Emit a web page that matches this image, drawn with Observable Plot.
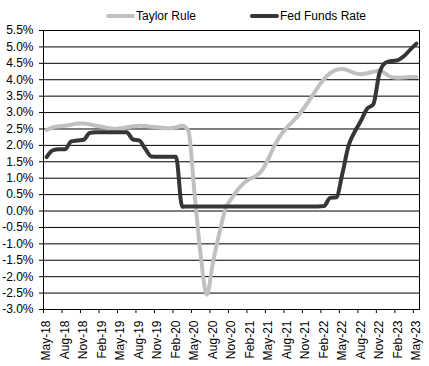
<!DOCTYPE html>
<html><head><meta charset="utf-8">
<script src="https://cdn.jsdelivr.net/npm/d3@7"></script>
<script src="https://cdn.jsdelivr.net/npm/@observablehq/plot@0.6"></script>
<style>
body{margin:0;background:#fff;font-family:"Liberation Sans",Arial,sans-serif;}
#legend{position:relative;height:24px;width:429px;font-size:12px;color:#000;}
.sw{position:absolute;top:14px;width:29px;height:4px;border-radius:2px;}
.lb{position:absolute;top:9px;line-height:14px;white-space:nowrap;}
#chart svg{display:block;}
</style></head><body>
<div id="legend">
  <div class="sw" style="left:106px;background:#c0c0c0"></div><div class="lb" style="left:136px">Taylor Rule</div>
  <div class="sw" style="left:250px;background:#363636"></div><div class="lb" style="left:280px">Fed Funds Rate</div>
</div>
<div id="chart"></div>
<script>
const months = ["May-18","Jun-18","Jul-18","Aug-18","Sep-18","Oct-18","Nov-18","Dec-18",
"Jan-19","Feb-19","Mar-19","Apr-19","May-19","Jun-19","Jul-19","Aug-19","Sep-19","Oct-19","Nov-19","Dec-19",
"Jan-20","Feb-20","Mar-20","Apr-20","May-20","Jun-20","Jul-20","Aug-20","Sep-20","Oct-20","Nov-20","Dec-20",
"Jan-21","Feb-21","Mar-21","Apr-21","May-21","Jun-21","Jul-21","Aug-21","Sep-21","Oct-21","Nov-21","Dec-21",
"Jan-22","Feb-22","Mar-22","Apr-22","May-22","Jun-22","Jul-22","Aug-22","Sep-22","Oct-22","Nov-22","Dec-22",
"Jan-23","Feb-23","Mar-23","Apr-23","May-23"];

const taylorRule = [2.47,2.55,2.58,2.60,2.63,2.67,2.67,2.64,2.60,2.57,2.53,2.50,2.52,2.55,2.58,2.60,2.59,2.57,2.55,2.53,
2.52,2.55,2.60,2.45,0.55,-1.35,-2.55,-1.55,-0.70,0.05,0.38,0.65,0.85,0.98,1.07,1.25,1.60,2.00,2.32,2.55,
2.74,2.95,3.20,3.48,3.77,4.02,4.20,4.30,4.33,4.28,4.20,4.17,4.20,4.24,4.28,4.18,4.08,4.06,4.07,4.08,4.08];

const fedFundsRate = [1.64,1.85,1.88,1.88,2.12,2.15,2.17,2.38,2.40,2.40,2.40,2.40,2.40,2.40,2.18,2.15,1.90,1.66,1.65,1.65,
1.65,1.65,0.13,0.14,0.14,0.14,0.14,0.14,0.14,0.14,0.14,0.14,0.14,0.14,0.14,0.14,0.14,0.14,0.14,0.14,
0.14,0.14,0.14,0.14,0.14,0.15,0.40,0.42,1.15,2.00,2.42,2.75,3.12,3.25,4.20,4.52,4.57,4.60,4.72,4.92,5.10];

const yTicks = [-3,-2.5,-2,-1.5,-1,-0.5,0,0.5,1,1.5,2,2.5,3,3.5,4,4.5,5,5.5];
const labelStep = 3;

const data = months.map((m, i) => ({i, month: m, taylor: taylorRule[i], fed: fedFundsRate[i]}));
const labelIdx = months.map((m, i) => i).filter(i => i % labelStep === 0);
const boundaries = labelIdx.map(i => i - 0.5);

const chart = Plot.plot({
  width: 429, height: 342,
  marginLeft: 43, marginRight: 10, marginTop: 6, marginBottom: 57,
  x: {type: "linear", domain: [-0.5, months.length - 0.5]},
  y: {domain: [-3, 5.5]},
  style: {fontFamily: "'Liberation Sans', Arial, sans-serif", fontSize: "12px", color: "#000", background: "#fff"},
  marks: [
    Plot.ruleY(yTicks, {stroke: "#000", strokeWidth: 1}),
    Plot.frame({stroke: "#000"}),
    Plot.axisY({ticks: yTicks, tickFormat: d => d.toFixed(1) + "%", tickSize: 4, tickPadding: 6, label: null}),
    Plot.axisX({ticks: boundaries, tickFormat: () => "", tickSize: 4, label: null}),
    Plot.axisX({ticks: labelIdx, tickFormat: i => months[i], tickSize: 0, tickRotate: -90, tickPadding: 11, label: null}),
    Plot.line(data, {x: "i", y: "taylor", stroke: "#c0c0c0", strokeWidth: 4, curve: "monotone-x"}),
    Plot.line(data, {x: "i", y: "fed", stroke: "#363636", strokeWidth: 4, curve: "monotone-x"})
  ]
});
document.getElementById("chart").appendChild(chart);
</script>
</body></html>
